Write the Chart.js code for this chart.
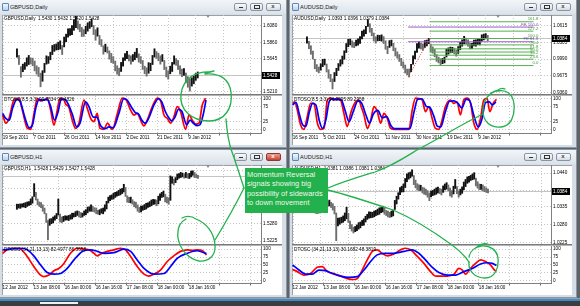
<!DOCTYPE html>
<html>
<head>
<meta charset="utf-8">
<script src="https://cdn.jsdelivr.net/npm/chart.js@4.4.1/dist/chart.umd.min.js"></script>
<style>
html,body{margin:0;padding:0}
body{width:580px;height:306px;overflow:hidden;position:relative;background:#5f6367;font-family:"Liberation Sans",Arial,sans-serif}
.win{position:absolute;width:288px;height:149px;box-sizing:border-box;border:1px solid #8b97a5;background:#d5dde7}
.tbar{position:absolute;left:0;top:0;width:286px;height:14px;background:linear-gradient(#f2f5f8,#dce3eb)}
.ttl{position:absolute;left:10px;top:3.5px;font-size:5.6px;line-height:7px;color:#222;white-space:nowrap}
.ico{position:absolute;left:2px;top:3px;width:5px;height:6px;border:1px solid #5a86b8;border-radius:1px;background:linear-gradient(#f4f8fc,#b9d0ea)}
.btn{position:absolute;top:2.5px;height:8px;width:13px;box-sizing:border-box;border:1px solid #8995a3;border-radius:2px;background:linear-gradient(#fbfcfd,#d4dbe3)}
.btn i{position:absolute;display:block}
.btn.red{background:linear-gradient(#e9a294,#c8402f);border-color:#8a3a30}
.area{position:absolute;left:2px;top:15px;width:280px;height:130px;background:#fff;overflow:hidden;box-shadow:inset 1px 1px 0 #a0a0a0}
.area canvas{position:absolute;left:0}
.sep{position:absolute;left:0;top:79px;width:280px;height:1px;background:#7a7a7a;border-bottom:1px solid #b5b5b5}
.shift{position:absolute;top:0;left:204px;width:0;height:0;border-left:2.5px solid transparent;border-right:2.5px solid transparent;border-top:3px solid #8c8c8c}
#note{position:absolute;left:245px;top:168px;width:83px;height:45px;background:#22b14c;color:#f0f8e8;font-size:7.4px;line-height:9.6px;padding:1.5px 0 0 2px;box-sizing:border-box;white-space:nowrap;z-index:6;overflow:hidden}
#ann{position:absolute;left:0;top:0;z-index:5;pointer-events:none}
</style>
</head>
<body>
<script>
// ---------------- DATA ----------------
// GBPUSD Daily: bar mid prices and half ranges (pips)
const gbpDDates = ['19 Sep 2011','7 Oct 2011','26 Oct 2011','14 Nov 2011','2 Dec 2011','21 Dec 2011','9 Jan 2012'];
const gbpDMid = [1.5724,1.5631,1.5473,1.5526,1.5552,1.5605,1.5631,1.5618,1.5605,1.5552,
 1.5499,1.5473,1.5367,1.5420,1.5526,1.5631,1.5631,1.5684,1.5763,1.5790,
 1.5803,1.5816,1.5829,1.5763,1.5869,1.5922,1.5988,1.6001,1.6027,1.6093,
 1.6133,1.6093,1.6054,1.6001,1.5988,1.6027,1.6067,1.6093,1.6120,1.6027,
 1.5961,1.6001,1.5895,1.5856,1.5763,1.5790,1.5763,1.5697,1.5658,1.5631,
 1.5552,1.5499,1.5473,1.5539,1.5605,1.5671,1.5697,1.5658,1.5631,1.5658,
 1.5684,1.5724,1.5658,1.5631,1.5565,1.5499,1.5473,1.5526,1.5539,1.5631,
 1.5724,1.5697,1.5671,1.5631,1.5658,1.5565,1.5473,1.5433,1.5499,1.5539,
 1.5631,1.5605,1.5565,1.5499,1.5460,1.5473,1.5394,1.5341,1.5301,1.5341,
 1.5367,1.5407,1.5433];
const gbpDHalf = [55,60,70,50,45,55,60,40,50,65,
 55,60,90,70,60,55,45,50,60,45,
 40,50,55,60,65,50,55,45,60,70,
 75,55,50,60,45,50,55,45,50,60,
 70,55,60,45,55,50,40,55,60,45,
 65,55,50,60,55,45,50,40,55,45,
 50,60,55,45,60,50,55,70,50,60,
 55,45,50,55,45,60,65,55,50,60,
 55,45,60,55,50,45,65,70,80,55,
 50,45,40];
const gbpDTicks = [1.5210,1.5425,1.5645,1.5860,1.6080];
const gbpDLast = 1.5428;
const gbpDRedX = [0,1.4,2.9,5.1,7.4,8.9,11.2,12.7,14.2,15.7,17.2,18.7,20.2,21.7,23.2,24.7,25.9,27.4,28.5,30,31.5,33,34.5,36.8,38.3,39.8,41.3,42.8,44,45.8,47.4,49.6,51.9,54.1,55.6,57.9,59.4,60.9,62.4,63.9,65.4,67.7,70,71.5,73,74.5,76,77.5,79,80.5,82.8,84.3,85.8,87.3,88.8,90.3,91.8];
const gbpDRed  = [47,20,36,96,101,63,3,0,52,101,93,96,101,63,14,63,101,101,83,72,30,3,20,96,68,36,25,52,3,0,20,0,52,102,99,63,47,52,30,11,30,74,102,93,47,36,20,41,74,58,0,47,30,17,20,79,102];
const gbpDBlueX = [0,1.5,3,4.5,6.5,8,10,12,13.5,15,16.5,18,20,21.5,23.5,25,26.5,28,29.5,31.5,33.5,35,37.5,39,41,42.5,44.5,46.5,48,50,52.5,54.8,56,58.5,60,61.5,63,64.5,66,68.5,70.5,72,73.5,75,76.5,78,79.5,81,83.3,84.8,86.3,88,89.3,90.8,92];
const gbpDBlue  = [52,35,30,70,98,90,40,5,15,70,98,95,98,80,30,55,98,98,85,50,8,20,90,75,40,40,10,2,8,5,50,100,98,70,55,50,30,20,35,80,100,90,60,40,28,40,65,60,15,30,20,12,15,50,96];

// AUDUSD Daily
const audDDates = ['16 Sep 2011','5 Oct 2011','24 Oct 2011','11 Nov 2011','30 Nov 2011','19 Dec 2011','9 Jan 2012'];
const audDMid = [1.0348,1.0254,1.0160,1.0065,0.9896,0.9820,0.9783,0.9839,0.9915,0.9933,
 0.9820,0.9707,0.9631,0.9520,0.9650,0.9745,0.9839,0.9915,0.9971,1.0065,
 1.0197,1.0292,1.0311,1.0273,1.0254,1.0292,1.0311,1.0348,1.0443,1.0480,
 1.0537,1.0669,1.0575,1.0499,1.0405,1.0348,1.0386,1.0386,1.0386,1.0348,
 1.0254,1.0160,1.0273,1.0292,1.0216,1.0122,1.0065,1.0009,0.9933,0.9877,
 0.9801,0.9745,0.9726,0.9820,0.9971,1.0065,1.0197,1.0254,1.0235,1.0216,
 1.0273,1.0292,1.0329,1.0197,1.0160,1.0103,1.0009,0.9971,0.9933,0.9952,
 0.9971,1.0103,1.0141,1.0160,1.0160,1.0141,1.0103,1.0160,1.0235,1.0292,
 1.0348,1.0329,1.0292,1.0235,1.0235,1.0292,1.0292,1.0311,1.0311,1.0386,
 1.0405,1.0424,1.0386];
const audDHalf = [60,70,80,75,90,65,55,60,70,55,
 75,80,70,95,85,70,65,60,75,80,
 85,70,55,60,50,55,60,65,75,60,
 70,65,80,70,75,60,55,50,60,65,
 80,70,65,55,70,75,60,65,70,60,
 75,55,75,70,80,75,85,60,55,60,
 65,55,50,75,60,70,65,55,60,50,
 55,75,60,55,50,55,60,65,70,60,
 70,55,60,55,50,55,60,50,55,60,
 55,45,50];
const audDTicks = [0.9360,0.9675,0.9990,1.0305,1.0615];
const audDLast = 1.0384;
const audDRedX = [0,0.9,2.1,3.6,5.1,6.6,8.1,9.6,11.2,12.7,14.2,15.7,17.2,18.7,20.2,21.7,23.2,24.7,26.2,28.5,30,31,32.3,33.8,35.3,36.8,38.3,39.8,41.3,42.8,44.3,45.8,50.3,52.6,54.1,55.6,57.1,58.6,60.1,61.6,63.1,64.6,66.1,67.6,69.1,71.4,72.9,74.4,75.9,77.4,78.9,80.5,82,83.5,85,86.5,88,89.2,90.7,92.2];
const audDRed  = [85,90,63,14,0,41,85,85,20,0,3,96,102,96,101,96,52,9,52,90,96,74,47,3,30,74,58,20,52,36,3,0,0,0,63,102,101,96,58,74,36,3,0,30,74,96,85,90,47,96,102,85,20,0,36,96,101,58,85,98];
const audDBlueX = [0,1.5,3,4.5,6,7.5,9,10.5,12,13.5,15,16.5,18,20,22,23.8,25.5,27.5,29.5,31,33,34.8,36.5,38.5,40.5,42.5,44.5,46,50,53,55,56.5,58.5,60.5,62,63.8,65.5,67,69,71,73,74.8,76.5,78.5,80,82,84,85.5,87.3,89,90.3,92];
const audDBlue  = [80,88,50,15,10,55,85,80,30,3,30,90,100,98,96,60,25,60,92,88,50,20,50,62,38,42,12,2,2,2,60,98,100,75,72,45,10,8,55,92,93,85,70,98,95,45,8,30,88,90,80,90];
// Fibonacci objects on AUDUSD Daily
const audFibLevels = [0,23.6,38.2,50,61.8,76.4,100,127.2,161.8];
const audFibNames  = ['0.0','23.6','38.2','50.0','61.8','76.4','100.0','127.2','161.8'];
const audFibHigh = 1.0377, audFibLow = 0.9866, audFeStart = 0.9650;
const audFeLevels = [61.8,100];
const audFeNames  = ['FE 61.8','FE 100.0'];
const audFibX = [62.4,115.3];
const audFeX  = [51.5,115.3];

// GBPUSD H1
const h1Dates = ['12 Jan 2012','13 Jan 08:00','16 Jan 00:00','16 Jan 16:00','17 Jan 08:00','18 Jan 00:00','18 Jan 16:00'];
const gbpHMid = [1.5332,1.5334,1.5334,1.5336,1.5337,1.5337,1.5340,1.5342,1.5347,1.5353,
 1.5384,1.5365,1.5347,1.5340,1.5337,1.5328,1.5319,1.5297,1.5259,1.5284,
 1.5287,1.5291,1.5297,1.5303,1.5331,1.5297,1.5291,1.5294,1.5297,1.5297,
 1.5297,1.5300,1.5303,1.5306,1.5309,1.5312,1.5309,1.5306,1.5306,1.5312,
 1.5315,1.5322,1.5325,1.5328,1.5325,1.5322,1.5319,1.5315,1.5315,1.5319,
 1.5319,1.5328,1.5337,1.5353,1.5359,1.5362,1.5365,1.5369,1.5372,1.5375,
 1.5378,1.5381,1.5390,1.5378,1.5356,1.5353,1.5353,1.5347,1.5340,1.5337,
 1.5328,1.5322,1.5325,1.5328,1.5331,1.5334,1.5337,1.5340,1.5344,1.5347,
 1.5347,1.5344,1.5353,1.5362,1.5369,1.5372,1.5359,1.5353,1.5350,1.5390,
 1.5415,1.5409,1.5415,1.5425,1.5428,1.5431,1.5431,1.5428,1.5431,1.5428,
 1.5428,1.5434,1.5437,1.5431,1.5428,1.5425];
const gbpHHalf = [8,6,7,5,6,8,7,6,9,10,
 20,12,9,7,8,10,9,14,30,10,
 8,9,7,8,25,12,9,8,7,6,
 8,7,9,6,8,7,9,8,6,7,
 8,9,7,10,8,7,9,6,8,7,
 9,10,12,9,8,7,9,8,7,8,
 9,8,12,14,10,8,9,7,8,9,
 10,8,9,7,8,9,7,8,9,8,
 7,9,12,10,8,9,12,9,10,38,
 10,9,8,9,7,8,6,7,8,7,
 8,9,7,8,6,5];
const gbpHTicks = [1.5225,1.5280,1.5335,1.5390,1.5445];
const gbpHLast = 1.5428;
const gbpHRedX = [0,2.4,5.8,9.3,12.7,16.1,19.6,21.3,23.9,26.5,29,31.6,35,38.5,41.1,44.5,47.1,48.8,50.5,54,57.4,60.8,63.4,66,69.4,72.9,75.4,78,81.4,84.9,88.3,91.7,95.2,97.8,100.3,102.9,105.1];
const gbpHRed  = [87,98,103,100,77,45,18,13,18,32,39,55,87,103,101,98,87,79,85,93,98,103,98,77,45,21,15,21,34,61,79,93,98,96,98,96,82];
const gbpHBlueX = [0,4.1,9.3,12.7,16.1,19.6,23,26.5,29.9,33.3,36.8,41.1,45.4,48.8,52.2,57.4,62.5,66,69.4,72.9,78,83.2,86.6,90,95.2,100.3,105.1];
const gbpHBlue  = [98,100,103,98,79,50,26,21,23,39,66,93,98,93,87,89,100,93,66,39,21,23,45,71,87,95,86];

// AUDUSD H1
const audHMid = [1.0356,1.0350,1.0344,1.0338,1.0332,1.0325,1.0322,1.0325,1.0332,1.0338,
 1.0344,1.0347,1.0344,1.0347,1.0341,1.0335,1.0325,1.0273,1.0288,1.0291,
 1.0294,1.0297,1.0304,1.0316,1.0301,1.0279,1.0270,1.0263,1.0266,1.0270,
 1.0276,1.0279,1.0285,1.0288,1.0297,1.0304,1.0310,1.0310,1.0310,1.0313,
 1.0316,1.0319,1.0322,1.0325,1.0328,1.0322,1.0316,1.0313,1.0310,1.0313,
 1.0316,1.0341,1.0356,1.0369,1.0384,1.0390,1.0394,1.0409,1.0425,1.0431,
 1.0434,1.0440,1.0418,1.0406,1.0397,1.0394,1.0394,1.0387,1.0384,1.0381,
 1.0375,1.0366,1.0375,1.0378,1.0381,1.0384,1.0387,1.0384,1.0381,1.0390,
 1.0397,1.0400,1.0394,1.0381,1.0375,1.0387,1.0406,1.0387,1.0375,1.0381,
 1.0387,1.0400,1.0409,1.0418,1.0421,1.0425,1.0428,1.0431,1.0412,1.0403,
 1.0397,1.0397,1.0394,1.0390,1.0387,1.0384];
const audHHalf = [9,8,10,8,9,10,8,9,10,8,
 9,8,7,9,8,10,12,43,12,10,
 9,10,12,18,14,12,10,9,8,9,
 10,9,8,10,9,8,10,9,8,9,
 8,9,10,8,9,10,8,9,8,9,
 9,14,12,10,11,9,12,14,12,10,
 9,10,14,12,10,9,8,9,10,9,
 10,12,9,8,9,10,9,8,9,10,
 9,10,9,12,10,12,14,11,10,9,
 10,12,11,10,9,8,9,10,12,10,
 9,8,9,8,7,6];
const audHTicks = [1.0225,1.0280,1.0335,1.0385,1.0440];
const audHLast = 1.0384;
const audHRedX = [0,2.4,5.8,9.3,12.7,15.3,17.9,21.3,24.7,28.2,31.6,33.3,35.9,38.5,41.1,43.6,46.2,48.8,52.2,55.7,58.2,60.8,64.3,67.7,71.1,73.7,76.3,79.7,83.2,85.7,87.5,89.2,91.7,94.3,96.9,99.4,102,104.1,105.1];
const audHRed  = [36,29,18,23,43,45,29,23,15,7,4,7,34,66,93,98,87,79,85,98,103,98,77,55,29,15,15,15,21,39,34,21,39,55,66,61,50,34,30];
const audHBlueX = [0,3.3,6.7,10.1,13.6,17,20.4,24.7,29,33.3,36.8,40.2,43.6,47.9,52.2,57.4,61.6,65.1,68.5,71.9,75.4,79.7,84,88.3,92.6,96.9,100.3,102.9,105.1];
const audHBlue  = [50,34,21,21,34,32,23,15,11,13,34,61,82,87,87,93,98,87,66,43,26,18,18,29,39,53,57,55,48];

const dailyOscTicks = [0,25,75,100];
const h1OscTicks = [0,25,50,75,100];

// ---------------- RENDERING ----------------
Chart.defaults.font.family = '"Liberation Sans", Arial, sans-serif';
Chart.defaults.font.size = 4.7;
Chart.defaults.color = '#000';
const GRID = '#c6c6c6';
const FONT = '4.7px "Liberation Sans", Arial, sans-serif';

const mtPlugin = {
  id: 'mt',
  beforeDatasetsDraw(chart, args, o) {
    if (o.bid == null) return;
    const {ctx, chartArea: a} = chart;
    const y = Math.round(chart.scales.y.getPixelForValue(o.bid)) + 0.5;
    ctx.save(); ctx.strokeStyle = '#c4c4c4'; ctx.lineWidth = 1;
    ctx.beginPath(); ctx.moveTo(a.left, y); ctx.lineTo(a.right, y); ctx.stroke(); ctx.restore();
  },
  afterDatasetsDraw(chart, args, o) {
    const {ctx, chartArea: a} = chart;
    ctx.save();
    if (o.labels) {
      ctx.font = '4.3px "Liberation Sans", Arial, sans-serif';
      ctx.textAlign = 'right'; ctx.textBaseline = 'bottom';
      o.labels.forEach(l => {
        ctx.fillStyle = l.color;
        ctx.fillText(l.text, chart.scales.x.getPixelForValue(l.x) + 5, chart.scales.y.getPixelForValue(l.y) - 0.3);
      });
    }
    if (o.header) {
      ctx.font = FONT; ctx.fillStyle = '#000'; ctx.textAlign = 'left'; ctx.textBaseline = 'top';
      ctx.fillText(o.header, a.left + 2, a.top + 1.8);
    }
    ctx.restore();
  },
  afterDraw(chart, args, o) {
    if (o.tag == null) return;
    const {ctx, chartArea: a} = chart;
    const y = chart.scales.y.getPixelForValue(o.tag);
    ctx.save();
    ctx.fillStyle = '#000';
    ctx.fillRect(a.right + 1, Math.round(y - 3.5), chart.width - a.right - 3, 7);
    ctx.fillStyle = '#fff'; ctx.font = FONT; ctx.textAlign = 'left'; ctx.textBaseline = 'middle';
    ctx.fillText(o.tag.toFixed(4), a.right + 2, y + 0.3);
    ctx.restore();
  }
};
Chart.register(mtPlugin);

function xScale(max, step, dates, labels) {
  return {
    type: 'linear', min: -0.3, max: max,
    afterBuildTicks: s => { const t = []; for (let v = 0; v <= max; v += step) t.push({value: v}); s.ticks = t; },
    afterFit: s => { s.height = labels ? 12 : 0; },
    ticks: {display: labels, autoSkip: false, maxRotation: 0, minRotation: 0, align: 'start', padding: 0,
      font: {size: 4.6, lineHeight: 1},
      callback: v => { const k = Math.round(v / step); return k < dates.length ? dates[k] : ''; }},
    grid: {color: GRID, drawTicks: labels, tickLength: 2.5, tickColor: '#6a6a6a'},
    border: {display: labels, color: '#808080', width: 1, dash: [1, 2]}
  };
}
function yScale(min, max, vals, fmt) {
  return {
    type: 'linear', position: 'right', min: min, max: max,
    afterBuildTicks: s => { s.ticks = vals.map(v => ({value: v})); },
    afterFit: s => { s.width = 21; },
    ticks: {padding: 0, font: {size: 4.7, lineHeight: 0.01}, callback: v => fmt(v)},
    grid: {color: GRID, drawTicks: true, tickLength: 2, tickColor: 'rgba(0,0,0,0)'},
    border: {display: true, color: '#808080', width: 1, dash: [1, 2]}
  };
}
const pts = (xs, ys) => xs.map((x, i) => ({x: x, y: ys[i]}));

function fibObjects() {
  const ds = [], labels = [];
  const span = audFibHigh - audFibLow;
  audFibLevels.forEach((lv, i) => {
    const p = audFibLow + lv / 100 * span;
    ds.push({type: 'line', data: [{x: audFibX[0], y: p}, {x: audFibX[1], y: p}], borderColor: '#55b04f', borderWidth: 1, pointRadius: 0, order: 0});
    labels.push({text: audFibNames[i], x: audFibX[1], y: p, color: '#3f9a3a'});
  });
  const ab = audFibHigh - audFeStart;
  audFeLevels.forEach((lv, i) => {
    const p = audFibLow + lv / 100 * ab;
    ds.push({type: 'line', data: [{x: audFeX[0], y: p}, {x: audFeX[1], y: p}], borderColor: '#9a5bc8', borderWidth: 1, pointRadius: 0, order: 0});
    labels.push({text: audFeNames[i], x: audFeX[1], y: p, color: '#8a45c0'});
  });
  ds.push({type: 'line', data: [{x: audFeX[0], y: audFeStart}, {x: audFibX[0], y: audFibHigh}], borderColor: '#e03030', borderWidth: 1, borderDash: [1, 1.5], pointRadius: 0, order: 0});
  return {ds, labels};
}

const windows = [
  {col: 0, row: 0, title: 'GBPUSD,Daily', header: 'GBPUSD,Daily  1.5430 1.5432 1.5420 1.5428',
   mid: gbpDMid, half: gbpDHalf, pMin: 1.5182, pMax: 1.6225, pTicks: gbpDTicks, last: gbpDLast,
   xMax: 116.9, step: 14, dates: gbpDDates, active: false,
   osc: {label: 'DTOSC(8,5,3,3) 99.7534 96.4826', rx: gbpDRedX, ry: gbpDRed, bx: gbpDBlueX, by: gbpDBlue, min: -12, max: 109, ticks: dailyOscTicks}},
  {col: 1, row: 0, title: 'AUDUSD,Daily', header: 'AUDUSD,Daily  1.0393 1.0396 1.0379 1.0384',
   mid: audDMid, half: audDHalf, pMin: 0.9330, pMax: 1.0820, pTicks: audDTicks, last: audDLast,
   xMax: 116.9, step: 14, dates: audDDates, active: false, fib: true,
   osc: {label: 'DTOSC(8,5,3,3) 96.0995 89.2958', rx: audDRedX, ry: audDRed, bx: audDBlueX, by: audDBlue, min: -12, max: 109, ticks: dailyOscTicks}},
  {col: 0, row: 1, title: 'GBPUSD,H1', header: 'GBPUSD,H1  1.5428 1.5429 1.5427 1.5428',
   mid: gbpHMid, half: gbpHHalf, pMin: 1.5216, pMax: 1.5462, pTicks: gbpHTicks, last: gbpHLast,
   xMax: 133.2, step: 16, dates: h1Dates, active: true,
   osc: {label: 'DTOSC (34,21,13,13) 82.4977 86.3658', rx: gbpHRedX, ry: gbpHRed, bx: gbpHBlueX, by: gbpHBlue, min: -7, max: 110, ticks: h1OscTicks}},
  {col: 1, row: 1, title: 'AUDUSD,H1', header: 'AUDUSD,H1  1.0381 1.0386 1.0381 1.0384',
   mid: audHMid, half: audHHalf, pMin: 1.02199, pMax: 1.04648, pTicks: audHTicks, last: audHLast,
   xMax: 133.2, step: 16, dates: h1Dates, active: false,
   osc: {label: 'DTOSC (34,21,13,13) 30.1682 48.3819', rx: audHRedX, ry: audHRed, bx: audHBlueX, by: audHBlue, min: -7, max: 110, ticks: h1OscTicks}}
];

function buildWindow(w) {
  const X0 = w.col * 290, Y0 = w.row * 150;
  const win = document.createElement('div');
  win.className = 'win';
  win.style.left = (X0 - 1) + 'px';
  win.style.top = (Y0 - 1) + 'px';
  win.innerHTML =
    '<div class="tbar"><div class="ico"></div><div class="ttl">' + w.title + '</div>' +
    '<div class="btn" style="left:234px"><i style="left:3.5px;top:3.5px;width:4px;height:1.2px;background:#333"></i></div>' +
    '<div class="btn" style="left:250px"><i style="left:3px;top:1.3px;width:3.5px;height:2.5px;border:1px solid #333"></i></div>' +
    '<div class="btn' + (w.active ? ' red' : '') + '" style="left:266px;width:15px"><i style="left:4.2px;top:-1.3px;font:bold 6px/8px Arial,sans-serif;color:' + (w.active ? '#fff' : '#444') + '">x</i></div>' +
    '</div><div class="area"></div>';
  document.body.appendChild(win);
  const area = win.querySelector('.area');

  const pc = document.createElement('canvas');
  pc.width = 280; pc.height = 79; pc.style.top = '0px';
  area.appendChild(pc);
  const sep = document.createElement('div'); sep.className = 'sep'; area.appendChild(sep);
  const sh = document.createElement('div'); sh.className = 'shift'; area.appendChild(sh);
  const oc = document.createElement('canvas');
  oc.width = 280; oc.height = 49; oc.style.top = '81px';
  area.appendChild(oc);

  const bars = w.mid.map((m, i) => ({x: i, y: [m - w.half[i] / 10000, m + w.half[i] / 10000]}));
  const cols = w.mid.map((m, i) => (i > 0 && m < w.mid[i - 1]) ? '#6e6e6e' : '#111111');
  let extra = [], fibLabels = null;
  if (w.fib) { const f = fibObjects(); extra = f.ds; fibLabels = f.labels; }

  new Chart(pc, {
    type: 'bar',
    data: {datasets: [{type: 'bar', data: bars, backgroundColor: cols, barThickness: 1.25, borderWidth: 0, grouped: false, order: 1}].concat(extra)},
    options: {
      responsive: false, animation: false, devicePixelRatio: 1, events: [], layout: {padding: 0},
      plugins: {legend: {display: false}, tooltip: {enabled: false},
        mt: {header: w.header, tag: w.last, bid: w.last, labels: fibLabels}},
      scales: {x: xScale(w.xMax, w.step, w.dates, false), y: yScale(w.pMin, w.pMax, w.pTicks, v => v.toFixed(4))}
    }
  });

  const o = w.osc;
  new Chart(oc, {
    type: 'line',
    data: {datasets: [
      {data: pts(o.rx, o.ry), borderColor: '#ff0000', borderWidth: 1.7, pointRadius: 0, cubicInterpolationMode: 'monotone', order: 1},
      {data: pts(o.bx, o.by), borderColor: '#0000ff', borderWidth: 1.7, pointRadius: 0, cubicInterpolationMode: 'monotone', order: 0}
    ]},
    options: {
      responsive: false, animation: false, devicePixelRatio: 1, events: [], layout: {padding: 0},
      plugins: {legend: {display: false}, tooltip: {enabled: false}, mt: {header: o.label}},
      scales: {x: xScale(w.xMax, w.step, w.dates, true), y: yScale(o.min, o.max, o.ticks, v => String(v))}
    }
  });
}
windows.forEach(buildWindow);

// bottom MDI strip
const strip = document.createElement('div');
strip.innerHTML =
  '<div style="position:absolute;left:0;top:298px;width:580px;height:8px;background:#3b3d40"></div>' +
  '<div style="position:absolute;left:0;top:298px;width:580px;height:1px;background:#98a1a9"></div>' +
  '<div style="position:absolute;left:0;top:299px;width:580px;height:1.5px;background:#3d8cc4"></div>' +
  '<div style="position:absolute;left:40px;top:301.5px;width:38px;height:2px;background:#efefef"></div>';
document.body.appendChild(strip);
</script>

<svg id="ann" width="580" height="306" viewBox="0 0 580 306">
  <g fill="none" stroke="#22b14c" stroke-width="1.3" stroke-linecap="round" stroke-linejoin="round">
    <path d="M211 72 C196 71 183 78 181 94 C179 110 192 121 209 121 C225 121 233 108 231 92 C229 79 220 73 205 74 M205 73 L214 71"/>
    <path d="M226 119 C227 132 229 144 232 152 C236 163 240 176 244 188"/>
    <path d="M244 188 C236 204 226 222 215 240"/>
    <path d="M182 218 C188 215 193 217 196 219 C206 223 214 232 215 245 C216 256 208 262 199 261 C189 259 180 250 178 238 C177 229 180 222 186 219"/>
    <path d="M328 188 C345 181 362 176 375 172 C392 166 404 158 417 150 C440 138 462 124 483 114"/>
    <path d="M499 90 C489 92 483 100 483 111 C483 122 491 128 501 127 C511 126 515 116 514 104 C513 94 506 89 498 91 M497 91 C500 88 503 88 505 89"/>
    <path d="M328 190 C348 195 372 203 393 210 C414 219 437 234 452 245 C460 251 465 256 469 262"/>
    <path d="M469 262 C468 271 475 278 485 278 C495 278 499 268 498 258 C497 250 490 245 481 246 C475 247 470 251 469 257 M478 246 C482 243 487 243 490 245"/>
  </g>
</svg>
<div id="note">Momentum Reversal<br>signals showing big<br>possibility of sidewards<br>to down movement</div>
</body>
</html>
